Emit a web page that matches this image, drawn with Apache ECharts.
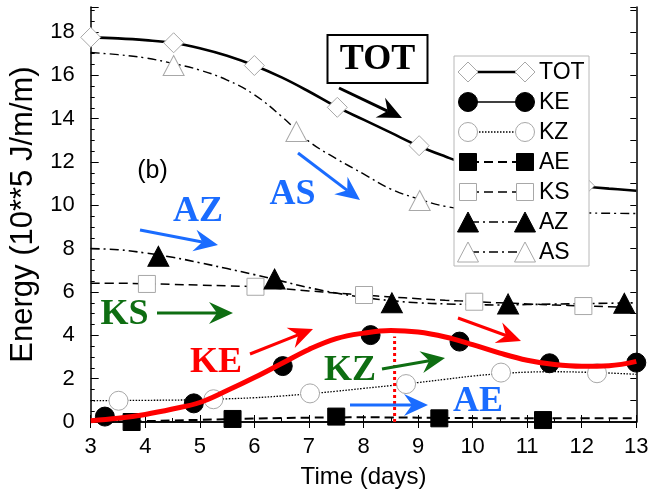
<!DOCTYPE html>
<html><head><meta charset="utf-8">
<script src="https://cdn.jsdelivr.net/npm/echarts@6/dist/echarts.min.js"></script>
<style>html,body{margin:0;padding:0;background:#fff}#c{width:654px;height:490px}</style>
</head><body><div id="c"></div>
<script>
// ---- data ----
const days   = [3,3.5,4,4.5,5,5.5,6,6.5,7,7.5,8,8.5,9,9.5,10,10.5,11,11.5,12,12.5,13];
const totLine= [17.75,17.7,17.62,17.5,17.25,16.9,16.45,15.9,15.25,14.55,13.95,13.35,12.75,12.25,11.8,11.45,11.2,11.0,10.88,10.77,10.67];
const keLine = [0.06,0.17,0.35,0.6,0.9,1.45,2.05,2.7,3.35,3.85,4.1,4.22,4.15,3.92,3.57,3.18,2.85,2.65,2.57,2.6,2.8];
const kzLine = [0.98,0.99,1.0,1.01,1.03,1.07,1.12,1.2,1.3,1.42,1.55,1.68,1.82,1.97,2.12,2.23,2.3,2.32,2.3,2.26,2.2];
const aeLine = [0.0,0.02,0.04,0.07,0.1,0.13,0.16,0.18,0.2,0.21,0.22,0.21,0.2,0.19,0.18,0.17,0.17,0.17,0.17,0.17,0.18];
const ksLine = [6.4,6.4,6.38,6.35,6.32,6.28,6.24,6.15,6.05,5.95,5.86,5.77,5.69,5.62,5.56,5.5,5.45,5.4,5.36,5.32,5.28];
const azLine = [8.0,7.95,7.8,7.6,7.35,7.08,6.8,6.5,6.2,5.95,5.75,5.6,5.5,5.45,5.42,5.4,5.42,5.44,5.46,5.48,5.5];
const asLine = [17.05,16.95,16.8,16.55,16.24,15.78,15.1,14.1,12.95,12.15,11.45,10.75,10.3,9.95,9.8,9.72,9.68,9.66,9.65,9.63,9.62];

const totMarks = [[3,17.75],[4.52,17.5],[6.0,16.45],[7.52,14.52],[9.02,12.75],[10.53,11.45],[12.05,10.9]];
const keMarks  = [[3.26,0.25],[4.89,0.86],[6.52,2.58],[8.13,4.01],[9.76,3.71],[11.41,2.71],[13.0,2.74]];
const kzMarks  = [[3.51,0.98],[5.25,1.05],[7.02,1.32],[8.78,1.75],[10.52,2.28],[12.28,2.25]];
const aeMarks  = [[3.75,0.0],[5.6,0.14],[7.5,0.25],[9.39,0.17],[11.29,0.09]];
const ksMarks  = [[4.03,6.37],[6.02,6.24],[8.01,5.86],[10.03,5.55],[12.03,5.35]];
const azMarks  = [[4.24,7.65],[6.37,6.6],[8.52,5.5],[10.65,5.45],[12.78,5.48]];
const asMarks  = [[4.52,16.45],[6.77,13.4],[9.03,10.22],[11.29,9.68]];

const redPeakLine = [[8.57,0],[8.57,3.95]];

const seriesNames = ['TOT','KE','KZ','AE','KS','AZ','AS'];
const xTicks = [3,4,5,6,7,8,9,10,11,12,13];
const yTicks = [0,2,4,6,8,10,12,14,16,18];

// ---- styles ----
const GRAY = '#a8a8a8';
const styles = {
  TOT:{sym:'diamond', size:[20,20], fill:'#fff', stroke:GRAY, lw:2.6, dash:'solid'},
  KE:{sym:'circle', size:19, fill:'#000', stroke:'#000', lw:1.2, dash:'solid'},
  KZ:{sym:'circle', size:19, fill:'#fff', stroke:GRAY, lw:1.3, dash:[1.5,1.5]},
  AE:{sym:'rect', size:17, fill:'#000', stroke:'#000', lw:2, dash:[9,5]},
  KS:{sym:'rect', size:17, fill:'#fff', stroke:GRAY, lw:1.5, dash:[9,5]},
  AZ:{sym:'triangle', size:[21,20], fill:'#000', stroke:'#000', lw:1.6, dash:[9,4,2,4]},
  AS:{sym:'triangle', size:[21,20], fill:'#fff', stroke:GRAY, lw:1.4, dash:[9,4,2,4]}
};
const lineArrays = {TOT:totLine, KE:keLine, KZ:kzLine, AE:aeLine, KS:ksLine, AZ:azLine, AS:asLine};
const markArrays = {TOT:totMarks, KE:keMarks, KZ:kzMarks, AE:aeMarks, KS:ksMarks, AZ:azMarks, AS:asMarks};

const series = [];
seriesNames.forEach(n => {
  const s = styles[n];
  series.push({
    name:n, type:'line', smooth:0.4, showSymbol:false, silent:true, z:2,
    data: days.map((d,i)=>[d, lineArrays[n][i]]),
    lineStyle:{color:'#000', width:s.lw, type:s.dash}
  });
});
seriesNames.forEach(n => {
  const s = styles[n];
  series.push({
    name:n+'_m', type:'scatter', symbol:s.sym, symbolSize:s.size, z:3, clip:false,
    data: markArrays[n],
    itemStyle:{color:s.fill, borderColor:s.stroke, borderWidth:1, opacity:1}
  });
});
series.push({
  name:'KE_red', type:'line', smooth:0.4, showSymbol:false, z:5,
  data: days.map((d,i)=>[d, keLine[i]]),
  lineStyle:{color:'#ff0000', width:5}
});
series.push({
  name:'peak', type:'line', showSymbol:false, z:4,
  data: redPeakLine,
  lineStyle:{color:'#ff0000', width:3, type:[3,3]}
});

// ---- graphics (legend + annotations) ----
const graphics = [];
function symbolEl(type, x, y, fill, stroke, z){
  const st = {fill:fill, stroke:stroke, lineWidth:1};
  if(type==='diamond') return {type:'polygon', z:z, shape:{points:[[x,y-10],[x+10,y],[x,y+10],[x-10,y]]}, style:st};
  if(type==='circle') return {type:'circle', z:z, shape:{cx:x, cy:y, r:9.5}, style:st};
  if(type==='rect') return {type:'rect', z:z, shape:{x:x-8.5, y:y-8.5, width:17, height:17}, style:st};
  return {type:'polygon', z:z, shape:{points:[[x,y-10],[x+10.5,y+10],[x-10.5,y+10]]}, style:st};
}
const LGX0=454, LGY0=56, LGW=135, LGH=210, ROW=30;
graphics.push({type:'rect', z:100, shape:{x:LGX0,y:LGY0,width:LGW,height:LGH}, style:{fill:'#fff', stroke:'#b8b8b8', lineWidth:1}});
seriesNames.forEach((n,i)=>{
  const s = styles[n];
  const y = LGY0 + 16 + i*ROW;
  const dash = Array.isArray(s.dash) ? s.dash : null;
  graphics.push({type:'line', z:101, shape:{x1:470,y1:y,x2:524,y2:y}, style:{stroke:'#000', lineWidth:Math.max(s.lw,1.5), lineDash:dash}});
  graphics.push(symbolEl(s.sym, 468, y, s.fill, s.stroke, 102));
  graphics.push(symbolEl(s.sym, 525, y, s.fill, s.stroke, 102));
  graphics.push({type:'text', z:102, x:539, y:y+1, style:{text:n, fill:'#000', font:'23px "Liberation Sans", Arial, sans-serif', textAlign:'left', textVerticalAlign:'middle', align:'left', verticalAlign:'middle'}});
});

function arrow(x1,y1,x2,y2,color){
  const a = Math.atan2(y2-y1, x2-x1), ux=Math.cos(a), uy=Math.sin(a), nx=-uy, ny=ux;
  const L=24, W=11, N=8;
  const bx=x2-L*ux, by=y2-L*uy;
  const mx=x2-(L-N)*ux, my=y2-(L-N)*uy;
  graphics.push({type:'line', z:110, shape:{x1:x1,y1:y1,x2:mx,y2:my}, style:{stroke:color, lineWidth:3}});
  graphics.push({type:'polygon', z:110, shape:{points:[[x2,y2],[bx+W*nx,by+W*ny],[mx,my],[bx-W*nx,by-W*ny]]}, style:{fill:color}});
}
function label(t,x,y,color){
  graphics.push({type:'text', z:111, x:x, y:y, style:{text:t, fill:color, font:'bold 36px "Liberation Serif", "Times New Roman", serif', textAlign:'center', textVerticalAlign:'middle', align:'center', verticalAlign:'middle'}});
}
const BLUE='#1a6cff', GREEN='#0e6e12', RED='#ff0000';
graphics.push({type:'rect', z:110, shape:{x:327.5,y:35,width:100,height:48}, style:{fill:'#fff', stroke:'#000', lineWidth:2}});
label('TOT',377.5,60,'#000');
arrow(339,88,402,118,'#000');
label('AS',292.5,195,BLUE); arrow(298,153,360,200,BLUE);
label('AZ',198,212,BLUE);   arrow(140,230,218,245,BLUE);
label('KS',124.5,315,GREEN); arrow(157,313,233,313,GREEN);
label('KE',216,363,RED);    arrow(250,354,313,329,RED);
label('KZ',350,371,GREEN);  arrow(382,369,445,358,GREEN);
label('AE',478,402,BLUE);   arrow(350,405,428,405,BLUE);
arrow(458,318,521,341,RED);
graphics.push({type:'text', z:111, x:152.5, y:171, style:{text:'(b)', fill:'#000', font:'25px "Liberation Sans", Arial, sans-serif', textAlign:'center', textVerticalAlign:'middle', align:'center', verticalAlign:'middle'}});

const AX = {lineStyle:{color:'#000', width:1.5}};
const option = {
  animation:false,
  backgroundColor:'#fff',
  grid:{left:90.7, right:17.7, top:7, bottom:68, containLabel:false, outerBoundsMode:'none'},
  xAxis:[{
    type:'value', min:xTicks[0], max:xTicks[xTicks.length-1], interval:1,
    name:'Time (days)', nameLocation:'middle', nameGap:43,
    nameTextStyle:{fontSize:24, color:'#000', fontFamily:'"Liberation Sans", Arial, sans-serif'},
    axisLine:AX, axisTick:{inside:true, length:7, lineStyle:{color:'#000'}},
    minorTick:{show:true, splitNumber:2, length:4, lineStyle:{color:'#000'}},
    axisLabel:{fontSize:22, color:'#000', margin:14, fontFamily:'"Liberation Sans", Arial, sans-serif'},
    splitLine:{show:false}
  },{
    type:'value', position:'top', min:3, max:13, interval:1,
    axisLine:AX, axisTick:{inside:true, length:6, lineStyle:{color:'#000'}},
    axisLabel:{show:false}, splitLine:{show:false}
  }],
  yAxis:[{
    type:'value', min:yTicks[0], max:19.15, interval:2,
    name:'Energy (10**5 J/m/m)', nameLocation:'middle', nameGap:51, nameRotate:90,
    nameTextStyle:{fontSize:31, color:'#000', fontFamily:'"Liberation Sans", Arial, sans-serif'},
    axisLine:AX, axisTick:{inside:true, length:8, lineStyle:{color:'#000'}},
    minorTick:{show:true, splitNumber:4, length:4, lineStyle:{color:'#000'}},
    axisLabel:{fontSize:22, color:'#000', margin:16, fontFamily:'"Liberation Sans", Arial, sans-serif',
      formatter:v => yTicks.indexOf(v)>=0 ? String(v) : ''},
    splitLine:{show:false}
  },{
    type:'value', position:'right', min:0, max:19.15, interval:1,
    axisLine:AX, axisTick:{inside:true, length:6, lineStyle:{color:'#000'}},
    axisLabel:{show:false}, splitLine:{show:false}
  }],
  graphic:{elements:graphics},
  series:series
};
const chart = echarts.init(document.getElementById('c'), null, {renderer:'canvas'});
chart.setOption(option);
</script>
</body></html>
